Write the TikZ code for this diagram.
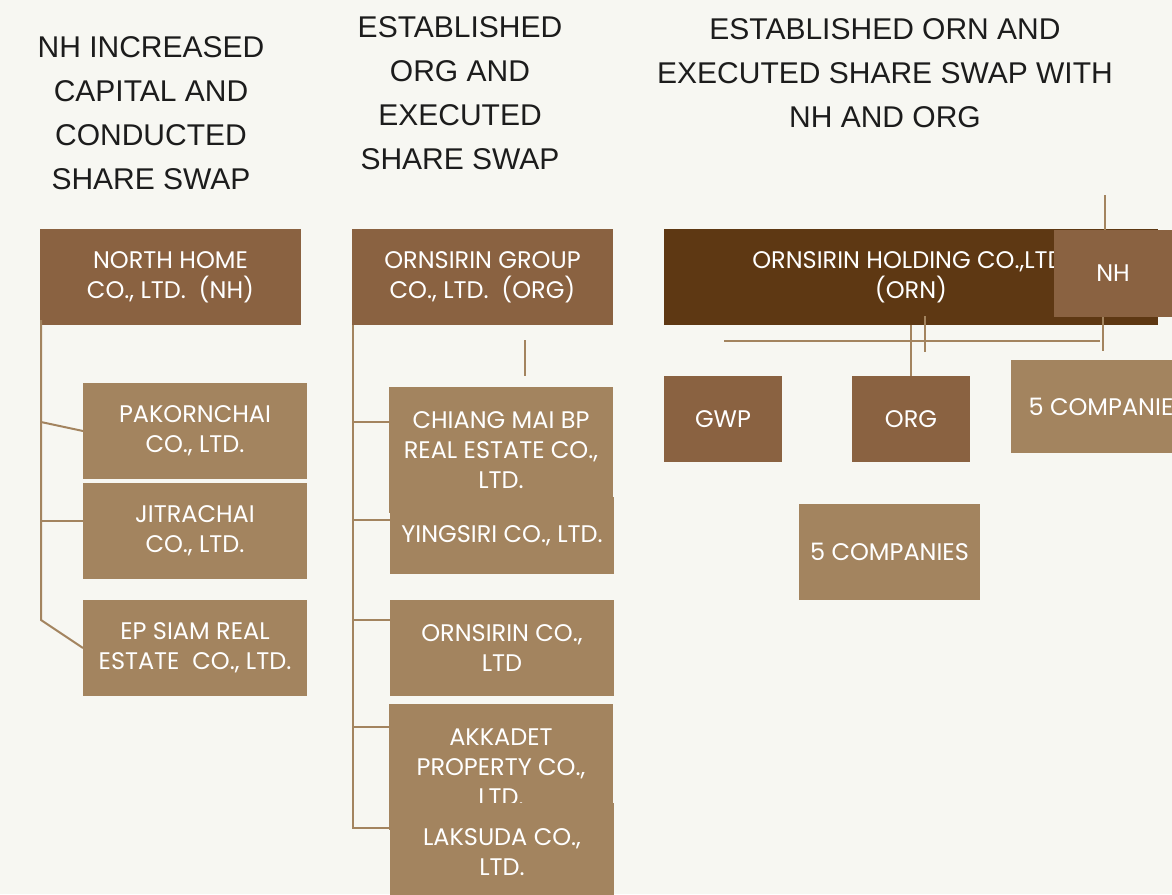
\documentclass[tikz,border=0pt]{standalone}
\usepackage{fontspec}
\setmainfont{Poppins}
\newfontfamily\headfont{Liberation Sans}
\definecolor{bgcream}{HTML}{F7F7F2}
\definecolor{nhbrown}{HTML}{8A6241}
\definecolor{ornbrown}{HTML}{5E3813}
\definecolor{subtan}{HTML}{A3845F}
\definecolor{headink}{HTML}{1C1C1C}
\begin{document}
\begin{tikzpicture}[x=0.75pt,y=-0.75pt,
  link/.style={draw=subtan,line width=1.5pt},
  box/.style 2 args={inner sep=0pt,outer sep=0pt,text=white,align=center,
    minimum width=#1*0.75pt,minimum height=#2*0.75pt,font=\fontsize{18}{22.5}\selectfont},
  parentbox/.style 2 args={box={#1}{#2},fill=nhbrown},
  holdbox/.style 2 args={box={#1}{#2},fill=ornbrown},
  childbox/.style 2 args={box={#1}{#2},fill=subtan},
  headtext/.style={align=center,text=headink,font=\headfont\fontsize{22.5}{33}\selectfont}]
\path[use as bounding box] (0,0) rectangle (1172,894);
\fill[bgcream] (0,0) rectangle (1172,894);
\clip (0,0) rectangle (1172,894);
\node[headtext] (hleft) at (151,113) {NH INCREASED\\CAPITAL AND\\CONDUCTED\\SHARE SWAP};
\node[headtext] (hmid) at (460,93) {ESTABLISHED\\ORG AND\\EXECUTED\\SHARE SWAP};
\node[headtext] (hright) at (885,73) {ESTABLISHED ORN AND\\EXECUTED SHARE SWAP WITH\\NH AND ORG};
\node[parentbox={261}{96}] (nh) at (170.5,277) {NORTH HOME\\CO., LTD.~~(NH)};
\node[parentbox={261}{96}] (org) at (482.5,277) {ORNSIRIN GROUP\\CO., LTD.~~(ORG)};
\node[holdbox={494}{96}] (orn) at (911,277) {ORNSIRIN HOLDING CO.,LTD.\\(ORN)};
\node[parentbox={118}{87}] (nhs) at (1113,273.5) {NH};
\node[childbox={224}{96}] (pak) at (195,431) {PAKORNCHAI\\CO., LTD.};
\node[childbox={224}{96}] (jit) at (195,531) {JITRACHAI\\CO., LTD.};
\node[childbox={224}{96}] (ep) at (195,648) {EP SIAM REAL\\ESTATE~~CO., LTD.};
\node[childbox={224}{126}] (cm) at (501,450) {CHIANG MAI BP\\REAL ESTATE CO.,\\LTD.};
\node[childbox={224}{77}] (ying) at (502,535.5) {YINGSIRI CO., LTD.};
\node[childbox={224}{96}] (orns) at (502,648) {ORNSIRIN CO.,\\LTD};
\node[childbox={224}{126}] (akk) at (501,767) {AKKADET\\PROPERTY CO.,\\LTD.};
\node[childbox={224}{98}] (lak) at (502,852) {LAKSUDA CO.,\\LTD.};
\node[parentbox={118}{86}] (gwp) at (723,419) {GWP};
\node[parentbox={118}{86}] (orgs) at (911,419) {ORG};
\node[childbox={194}{93}] (fivea) at (1108,406.5) {5 COMPANIES};
\node[childbox={181}{96}] (fiveb) at (889.5,552) {5 COMPANIES};
\coordinate (nhb1) at (41,422);
\coordinate (nhb2) at (41,521);
\coordinate (nhb3) at (41,620);
\draw[link] ([xshift=0.75pt,yshift=3.75pt]nh.south west) -- (nhb3) -- (ep.west);
\draw[link] (nhb1) -- (pak.west);
\draw[link] (nhb2) -- (nhb2 -| jit.west);
\coordinate (ob1) at (353,422);
\coordinate (ob2) at (353,520);
\coordinate (ob3) at (353,620);
\coordinate (ob4) at (353,727);
\coordinate (ob5) at (353,828);
\draw[link] ([xshift=0.75pt]org.south west) -- (ob5) -- (ob5 -| lak.west);
\draw[link] (ob1) -- (ob1 -| cm.west);
\draw[link] (ob2) -- (ob2 -| ying.west);
\draw[link] (ob3) -- (ob3 -| orns.west);
\draw[link] (ob4) -- (ob4 -| akk.west);
\draw[link] (525,340) -- (525,376);
\draw[link] (orn.south) -- (orgs.north);
\draw[link] (925,316) -- (925,352);
\draw[link] (724,341) -- (1100,341);
\draw[link] (1103,317) -- (1103,351);
\coordinate (nhtop) at (1105,195);
\draw[link] (nhtop) -- (nhtop |- nhs.north);
\end{tikzpicture}
\end{document}
